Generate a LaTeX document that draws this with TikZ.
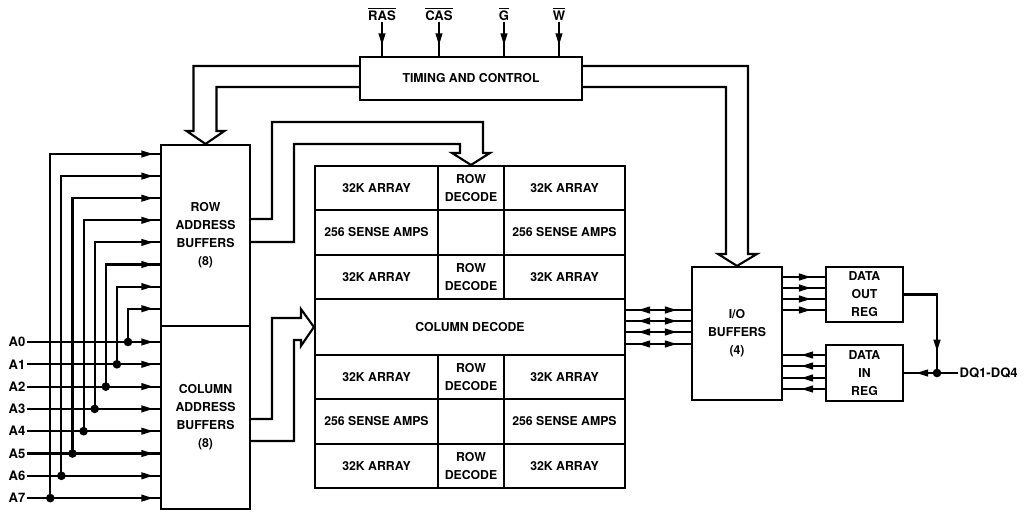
\documentclass[tikz,border=0pt]{standalone}
\usepackage{fontspec}
\setmainfont{TeX Gyre Heros}
\usepackage{tikz}
\usetikzlibrary{
  arrows.meta,
  positioning,
  calc,
  decorations.markings
}
\tikzset{
  wire/.style={line width=1.6pt},
  blk/.style={
    draw, line width=1.6pt, inner sep=0pt, align=center,
    font=\bfseries\fontsize{9.2}{13.5}\selectfont
  },
  cell/.style={blk, minimum height=33.25pt},
  lbl/.style={inner sep=1pt, font=\bfseries\fontsize{9.8}{11}\selectfont},
  bus/.style={wire, line join=miter},
  feedin/.style={wire, postaction={decorate},
    decoration={markings, mark=at position -#1 with {\arrow{>}}}},
  feedin/.default=5pt,
  twoway/.style={wire, postaction={decorate},
    decoration={markings,
      mark=at position 9pt with {\arrowreversed{>}},
      mark=at position -10.5pt with {\arrow{>}}}},
  junction/.style={circle, fill, inner sep=0pt, minimum size=6.5pt}
}

\begin{document}
\begin{tikzpicture}[x=0.75pt, y=-0.75pt, >={Triangle[length=9pt,width=5pt]}]
  \useasboundingbox (0,0) rectangle (1028,511);

  \node[blk, minimum width=166.5pt, minimum height=32.25pt] (tc) at (471,78.5) {TIMING AND CONTROL};
  \node[blk, minimum width=66.75pt, minimum height=135.75pt] (rab) at (205.5,235.5) {ROW\\ADDRESS\\BUFFERS\\(8)};
  \node[blk, minimum width=66.75pt, minimum height=137.25pt] (cab) at (205.5,417.5) {COLUMN\\ADDRESS\\BUFFERS\\(8)};
  \node[blk, minimum width=232.5pt, minimum height=42pt] (coldec) at (470,327) {COLUMN DECODE};
  \node[blk, minimum width=67.5pt, minimum height=99.75pt] (iob) at (737,333.5) {I/O\\BUFFERS\\(4)};
  \node[blk, minimum width=57.75pt, minimum height=41.25pt] (dout) at (864.5,294.5) {DATA\\OUT\\REG};
  \node[blk, minimum width=57.75pt, minimum height=42pt] (din) at (864.5,373) {DATA\\IN\\REG};

  % memory array
  \foreach \r/\yc/\side/\mid in {1/188.2/32K ARRAY/{ROW\\DECODE}, 2/232.5/256 SENSE AMPS/{},
      3/276.8/32K ARRAY/{ROW\\DECODE}, 5/377.2/32K ARRAY/{ROW\\DECODE},
      6/421.5/256 SENSE AMPS/{}, 7/465.8/32K ARRAY/{ROW\\DECODE}}{
    \node[cell, minimum width=92.25pt] (arrL\r) at (376.5,\yc) {\side};
    \node[cell, minimum width=49.5pt] (dec\r) at (471,\yc) {\mid};
    \node[cell, minimum width=90.75pt] (arrR\r) at (564.5,\yc) {\side};
  }

  % control inputs
  \foreach \n/\x/\sig in {ras/382/RAS, cas/439/CAS, g/504/G, w/559/W}{
    \node[lbl] (\n) at (\x,14) {$\overline{\mbox{\sig}}$};
    \draw[feedin=8pt] (\n.south) -- (\n.south |- tc.north);
  }

  % wide buses
  \draw[bus] ($(tc.north west)+(0,10)$) -| ($(rab.north)+(-12,-13)$) -- ++(-7,0)
    -- (rab.north) -- ++(19,-13) -- ++(-8,0) |- ($(tc.north west)+(0,31)$);
  \draw[bus] ($(tc.north east)+(0,10)$) -| ($(iob.north)+(11,-12)$) -- ++(9,0)
    -- (iob.north) -- ++(-19,-12) -- ++(8,0) |- ($(tc.north east)+(0,31)$);
  \draw[bus] ($(rab.north east)+(0,75)$) -| (272,122) -| ($(dec1.north)+(12,-12)$) -- ++(7,0)
    -- (dec1.north) -- ++(-19,-12) -- ++(8,0) |- (294,144) |- ($(rab.north east)+(0,98)$);
  \draw[bus] ($(cab.north east)+(0,94)$) -| (272,318) -- ($(coldec.west)+(-13,-9)$) -- ++(0,-9)
    -- (coldec.west) -- ++(-13,19) -- ++(0,-6) -- (294,340) |- ($(cab.north east)+(0,116)$);

  % address inputs
  \foreach \i in {0,...,7}{
    \pgfmathsetmacro\ya{342+22.3*\i}
    \pgfmathsetmacro\yt{154+22.1*(7-\i)}
    \pgfmathsetmacro\xv{128-11.1*\i}
    \node[lbl, anchor=east] (a\i) at (27,\ya) {A\i};
    \coordinate (j\i) at (\xv,\ya);
    \coordinate (t\i) at (\xv,\yt);
    \draw[feedin] (a\i.east) -- (cab.west |- j\i);
    \draw[feedin] (j\i) -- (t\i) -- (rab.west |- t\i);
    \node[junction] at (j\i) {};
  }

  % data paths
  \foreach \y in {310,321,332,344}{
    \coordinate (m) at (650,\y);
    \draw[twoway] (coldec.east |- m) -- (iob.west |- m);
  }
  \foreach \y in {277,288,299,310}{
    \coordinate (m) at (800,\y);
    \draw[feedin=10.5pt] (iob.east |- m) -- (dout.west |- m);
  }
  \foreach \y in {355,366,378,389}{
    \coordinate (m) at (800,\y);
    \draw[feedin=13.5pt] (din.west |- m) -- (iob.east |- m);
  }

  \node[lbl, anchor=west] (dq) at (958,373) {DQ1-DQ4};
  \coordinate (dqj) at (937,373);
  \draw[wire] (dq.west) -- (dqj);
  \draw[feedin=9pt] (dqj) -- (din.east);
  \draw[feedin=16pt] (dout.east) -| (dqj);
  \node[junction] at (dqj) {};
\end{tikzpicture}
\end{document}
